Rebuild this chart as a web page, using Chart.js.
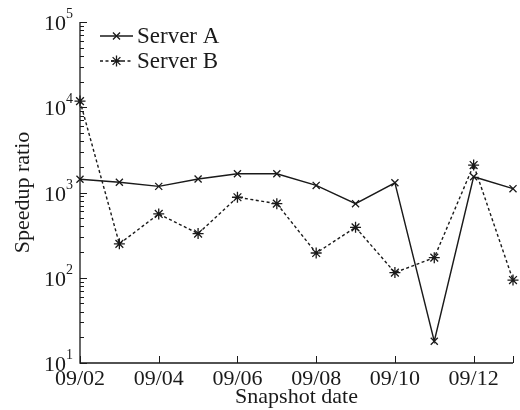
<!DOCTYPE html>
<html>
<head>
<meta charset="utf-8">
<script src="https://cdn.jsdelivr.net/npm/chart.js"></script>
<style>
  html, body { margin: 0; padding: 0; background: #fff; }
  canvas { display: block; }
</style>
</head>
<body>
<canvas id="speedupChart" width="520" height="410"></canvas>
<script>
// data
const dates = ["09/02", "09/03", "09/04", "09/05", "09/06", "09/07",
               "09/08", "09/09", "09/10", "09/11", "09/12", "09/13"];
const serverA = [1430, 1320, 1180, 1440, 1660, 1660, 1210, 740, 1300, 18, 1530, 1110];
const serverB = [11800, 250, 560, 330, 880, 740, 195, 390, 115, 172, 2100, 94];
const yDecades = [1, 2, 3, 4, 5];

const ink = "#1a1a1a";
const serif = "'Liberation Serif', 'Times New Roman', serif";

// axes, inward ticks, superscript labels and legend drawn by hand
const paperAxes = {
    id: "paperAxes",
    afterDraw(chart) {
        const ctx = chart.ctx;
        const area = chart.chartArea;
        const x = chart.scales.x;
        const y = chart.scales.y;
        ctx.save();
        ctx.strokeStyle = ink;
        ctx.lineWidth = 1.3;

        // left + bottom axis
        ctx.beginPath();
        ctx.moveTo(area.left, area.top);
        ctx.lineTo(area.left, area.bottom);
        ctx.lineTo(area.right, area.bottom);
        ctx.stroke();

        // x ticks
        ctx.lineWidth = 1;
        dates.forEach((d, i) => {
            if (i % 2 === 0 || i === dates.length - 1) {
                const px = Math.round(x.getPixelForValue(i)) + 0.5;
                ctx.beginPath();
                ctx.moveTo(px, area.bottom);
                ctx.lineTo(px, area.bottom - 7);
                ctx.stroke();
            }
        });

        // y ticks, major and minor
        yDecades.forEach((k) => {
            const base = Math.pow(10, k);
            const py = Math.round(y.getPixelForValue(base)) + 0.5;
            ctx.beginPath();
            ctx.moveTo(area.left, py);
            ctx.lineTo(area.left + 7, py);
            ctx.stroke();
            if (k < 5) {
                for (let m = 2; m <= 9; m++) {
                    const my = Math.round(y.getPixelForValue(base * m)) + 0.5;
                    ctx.beginPath();
                    ctx.moveTo(area.left, my);
                    ctx.lineTo(area.left + 4, my);
                    ctx.stroke();
                }
            }
            // label 10^k
            ctx.fillStyle = ink;
            ctx.font = "22px " + serif;
            ctx.textAlign = "right";
            ctx.textBaseline = "middle";
            ctx.fillText("10", 66, py + 2);
            ctx.font = "14px " + serif;
            ctx.textAlign = "left";
            ctx.fillText(String(k), 66, py - 8);
        });

        // legend
        const rows = [
            { label: "Server A", ds: chart.data.datasets[0], y: 36 },
            { label: "Server B", ds: chart.data.datasets[1], y: 61 },
        ];
        rows.forEach((r) => {
            ctx.strokeStyle = ink;
            ctx.lineWidth = 1.3;
            ctx.setLineDash(r.ds.borderDash || []);
            ctx.beginPath();
            ctx.moveTo(100, r.y);
            ctx.lineTo(133, r.y);
            ctx.stroke();
            ctx.setLineDash([]);
            Chart.helpers.drawPoint(ctx, {
                pointStyle: r.ds.pointStyle,
                radius: r.ds.pointRadius,
                borderWidth: 1.3,
            }, 116.5, r.y);
            ctx.fillStyle = ink;
            ctx.font = "23px " + serif;
            ctx.textAlign = "left";
            ctx.textBaseline = "middle";
            ctx.fillText(r.label, 137, r.y + 1);
        });
        ctx.restore();
    },
};

const ctx = document.getElementById("speedupChart").getContext("2d");
new Chart(ctx, {
    type: "line",
    data: {
        labels: dates,
        datasets: [
            {
                label: "Server A",
                data: serverA,
                borderColor: ink,
                backgroundColor: ink,
                borderWidth: 1.4,
                pointStyle: "crossRot",
                pointRadius: 5,
                pointBorderWidth: 1.3,
                tension: 0,
            },
            {
                label: "Server B",
                data: serverB,
                borderColor: ink,
                backgroundColor: ink,
                borderWidth: 1.4,
                borderDash: [3, 2.5],
                pointStyle: "star",
                pointRadius: 5.5,
                pointBorderWidth: 1.3,
                tension: 0,
            },
        ],
    },
    options: {
        responsive: false,
        animation: false,
        devicePixelRatio: 1,
        layout: { padding: { top: 22, right: 7, left: 0, bottom: 0 } },
        plugins: {
            legend: { display: false },
            tooltip: { enabled: false },
        },
        scales: {
            x: {
                type: "category",
                offset: false,
                grid: { display: false, drawTicks: false },
                border: { display: false },
                ticks: {
                    autoSkip: false,
                    maxRotation: 0,
                    padding: 5,
                    color: ink,
                    font: { family: serif, size: 22, lineHeight: 1 },
                    callback: (v, i) => (i % 2 === 0 && i < dates.length - 1 ? dates[i] : ""),
                },
                title: {
                    display: true,
                    text: "Snapshot date",
                    color: ink,
                    font: { family: serif, size: 22, lineHeight: 1 },
                    padding: { top: 0, bottom: 2 },
                },
                afterFit: (s) => { s.height = 47; },
            },
            y: {
                type: "logarithmic",
                min: 10,
                max: 100000,
                grid: { display: false, drawTicks: false },
                border: { display: false },
                ticks: { display: false },
                title: {
                    display: true,
                    text: "Speedup ratio",
                    color: ink,
                    font: { family: serif, size: 22, lineHeight: 1 },
                    padding: { top: 12, bottom: 0 },
                },
                afterFit: (s) => { s.width = 80; },
            },
        },
    },
    plugins: [paperAxes],
});
</script>
</body>
</html>
